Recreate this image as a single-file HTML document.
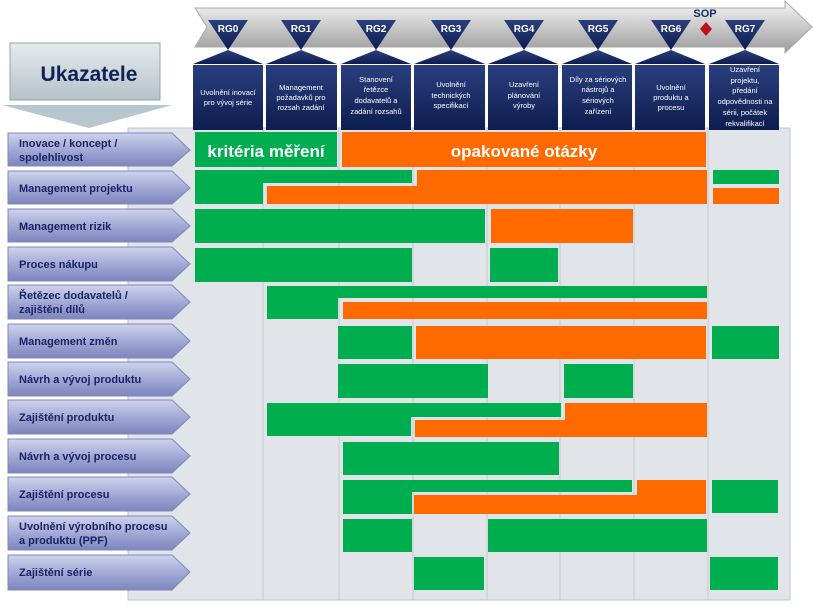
<!DOCTYPE html>
<html><head><meta charset="utf-8"><style>
body{margin:0;width:813px;height:602px;background:#fff;overflow:hidden;font-family:"Liberation Sans",sans-serif}
</style></head><body>
<svg width="813" height="602" viewBox="0 0 813 602" xmlns="http://www.w3.org/2000/svg" font-family="Liberation Sans, sans-serif">
<defs>
<linearGradient id="ga" x1="0" y1="0" x2="0" y2="1"><stop offset="0" stop-color="#f4f4f4"/><stop offset="0.5" stop-color="#c9c9c9"/><stop offset="1" stop-color="#9a9a9a"/></linearGradient>
<linearGradient id="gl" x1="0" y1="0" x2="0" y2="1"><stop offset="0" stop-color="#cfd3ec"/><stop offset="0.5" stop-color="#a3aad6"/><stop offset="1" stop-color="#7c84bd"/></linearGradient>
<linearGradient id="gb" x1="0" y1="0" x2="0" y2="1"><stop offset="0" stop-color="#2a3f7e"/><stop offset="1" stop-color="#0d1d4f"/></linearGradient>
<linearGradient id="gt" x1="0" y1="0" x2="0" y2="1"><stop offset="0" stop-color="#e6ebee"/><stop offset="1" stop-color="#b5c3c9"/></linearGradient>
</defs>
<rect x="128" y="128" width="662" height="472" fill="#e1e4e8" stroke="#b9c6dc"/>
<g stroke="#c8ccd2" stroke-width="1">
<line x1="263" y1="128" x2="263" y2="600"/><line x1="339" y1="128" x2="339" y2="600"/><line x1="413" y1="128" x2="413" y2="600"/><line x1="487" y1="128" x2="487" y2="600"/><line x1="560" y1="128" x2="560" y2="600"/><line x1="634" y1="128" x2="634" y2="600"/><line x1="708" y1="128" x2="708" y2="600"/>
</g>
<!-- top arrow -->
<polygon points="195,8 785,8 785,1 812,27 785,53 785,47 195,47 207,27" fill="url(#ga)" stroke="#aaa"/>
<g fill="url(#gb)">
<polygon points="208,20 248,20 228,50"/><polygon points="281,20 321,20 301,50"/><polygon points="356,20 396,20 376,50"/><polygon points="431,20 471,20 451,50"/><polygon points="504,20 544,20 524,50"/><polygon points="578,20 618,20 598,50"/><polygon points="651,20 691,20 671,50"/><polygon points="725,20 765,20 745,50"/>
</g>
<g fill="#fff" font-size="10" font-weight="bold" text-anchor="middle">
<text x="228" y="32">RG0</text><text x="301" y="32">RG1</text><text x="376" y="32">RG2</text><text x="451" y="32">RG3</text><text x="524" y="32">RG4</text><text x="598" y="32">RG5</text><text x="671" y="32">RG6</text><text x="745" y="32">RG7</text>
</g>
<text x="705" y="17" font-size="11" font-weight="bold" fill="#1a2a66" text-anchor="middle">SOP</text>
<polygon points="706,22 712,29 706,36 700,29" fill="#c0101a"/>
<!-- boxes -->
<g fill="url(#gb)">
<polygon points="193,64 228,50 263,64"/><polygon points="266,64 301,50 337,64"/><polygon points="341,64 376,50 411,64"/><polygon points="414,64 451,50 485,64"/><polygon points="488,64 524,50 558,64"/><polygon points="562,64 598,50 632,64"/><polygon points="635,64 671,50 705,64"/><polygon points="709,64 745,50 779,64"/>
<rect x="193" y="65" width="70" height="65"/><rect x="266" y="65" width="71" height="65"/><rect x="341" y="65" width="70" height="65"/><rect x="414" y="65" width="71" height="65"/><rect x="488" y="65" width="70" height="65"/><rect x="562" y="65" width="70" height="65"/><rect x="635" y="65" width="70" height="65"/><rect x="709" y="65" width="70" height="65"/>
</g>
<g fill="#fff" font-size="7.5" text-anchor="middle">
<text x="228" y="95">Uvolnění inovací</text><text x="228" y="105">pro vývoj série</text>
<text x="301" y="90">Management</text><text x="301" y="100">požadavků pro</text><text x="301" y="110">rozsah zadání</text>
<text x="376" y="82">Stanovení</text><text x="376" y="92">řetězce</text><text x="376" y="103">dodavatelů a</text><text x="376" y="114">zadání rozsahů</text>
<text x="451" y="87">Uvolnění</text><text x="451" y="98">technických</text><text x="451" y="108">specifikací</text>
<text x="524" y="87">Uzavření</text><text x="524" y="98">plánování</text><text x="524" y="108">výroby</text>
<text x="598" y="82">Díly za sériových</text><text x="598" y="92">nástrojů a</text><text x="598" y="103">sériových</text><text x="598" y="114">zařízení</text>
<text x="671" y="90">Uvolnění</text><text x="671" y="100">produktu a</text><text x="671" y="110">procesu</text>
<text x="745" y="72">Uzavření</text><text x="745" y="83">projektu,</text><text x="745" y="93">předání</text><text x="745" y="104">odpovědnosti na</text><text x="745" y="115">sérii, počátek</text><text x="745" y="126">rekvalifikací</text>
</g>
<!-- Ukazatele -->
<rect x="10" y="43" width="150" height="57" fill="url(#gt)" stroke="#8fa3ad"/>
<text x="89" y="81" font-size="21" font-weight="bold" fill="#0f2157" text-anchor="middle">Ukazatele</text>
<polygon points="2,105 172,105 89,128" fill="#b8c7cd"/>
<!-- label arrows -->
<g fill="url(#gl)" stroke="#8088b8">
<polygon points="8,133 172,133 190,150 172,166 8,166"/>
<polygon points="8,171 172,171 190,188 172,204 8,204"/>
<polygon points="8,209 172,209 190,226 172,242 8,242"/>
<polygon points="8,247 172,247 190,264 172,281 8,281"/>
<polygon points="8,285 172,285 190,302 172,319 8,319"/>
<polygon points="8,324 172,324 190,341 172,358 8,358"/>
<polygon points="8,362 172,362 190,379 172,396 8,396"/>
<polygon points="8,400 172,400 190,417 172,434 8,434"/>
<polygon points="8,439 172,439 190,456 172,473 8,473"/>
<polygon points="8,477 172,477 190,494 172,511 8,511"/>
<polygon points="8,516 172,516 190,533 172,550 8,550"/>
<polygon points="8,555 172,555 190,572 172,590 8,590"/>
</g>
<g fill="#1a2466" font-size="11" font-weight="bold">
<text x="19" y="147">Inovace / koncept /</text><text x="19" y="161">spolehlivost</text>
<text x="19" y="192">Management projektu</text>
<text x="19" y="230">Management rizik</text>
<text x="19" y="268">Proces nákupu</text>
<text x="19" y="299">Řetězec dodavatelů /</text><text x="19" y="313">zajištění dílů</text>
<text x="19" y="345">Management změn</text>
<text x="19" y="383">Návrh a vývoj produktu</text>
<text x="19" y="421">Zajištění produktu</text>
<text x="19" y="460">Návrh a vývoj procesu</text>
<text x="19" y="498">Zajištění procesu</text>
<text x="19" y="530">Uvolnění výrobního procesu</text><text x="19" y="544">a produktu (PPF)</text>
<text x="19" y="576">Zajištění série</text>
</g>
<!-- bars -->
<g fill="#00ad4f">
<rect x="195" y="132" width="142" height="35"/>
<rect x="195" y="170" width="68" height="34"/><rect x="263" y="170" width="149" height="13"/><rect x="713" y="170" width="66" height="14"/>
<rect x="195" y="209" width="290" height="34"/>
<rect x="195" y="248" width="217" height="34"/><rect x="490" y="248" width="68" height="34"/>
<rect x="267" y="286" width="440" height="12"/><rect x="267" y="286" width="71" height="33"/>
<rect x="338" y="326" width="74" height="33"/><rect x="712" y="326" width="67" height="33"/>
<rect x="338" y="364" width="150" height="34"/><rect x="564" y="364" width="69" height="34"/>
<rect x="267" y="403" width="294" height="14"/><rect x="267" y="403" width="144" height="33"/>
<rect x="343" y="442" width="216" height="33"/>
<rect x="343" y="480" width="69" height="34"/><rect x="412" y="480" width="220" height="12"/><rect x="712" y="480" width="66" height="33"/>
<rect x="343" y="519" width="69" height="33"/><rect x="488" y="519" width="219" height="33"/>
<rect x="414" y="557" width="70" height="33"/><rect x="710" y="557" width="68" height="33"/>
</g>
<g fill="#ff6a00">
<rect x="342" y="132" width="364" height="35"/>
<rect x="267" y="186" width="150" height="18"/><rect x="417" y="170" width="290" height="34"/><rect x="713" y="188" width="66" height="16"/>
<rect x="491" y="209" width="142" height="34"/>
<rect x="343" y="302" width="364" height="17"/>
<rect x="416" y="326" width="290" height="33"/>
<rect x="415" y="420" width="150" height="17"/><rect x="565" y="403" width="142" height="34"/>
<rect x="414" y="495" width="223" height="19"/><rect x="637" y="480" width="69" height="34"/>
</g>
<g fill="#fff" font-size="17" font-weight="bold" text-anchor="middle">
<text x="266" y="157">kritéria měření</text>
<text x="524" y="157">opakované otázky</text>
</g>
</svg>
</body></html>
